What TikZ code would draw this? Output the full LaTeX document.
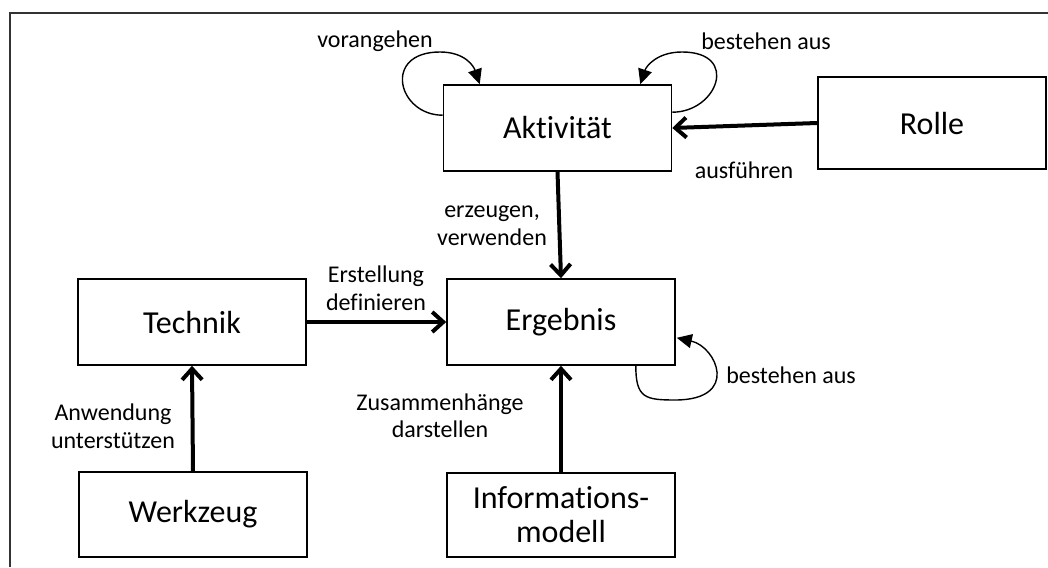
\documentclass[tikz,border=0pt]{standalone}
\usepackage{fontspec}
\setmainfont{Carlito}[Ligatures=NoCommon]
\usetikzlibrary{arrows.meta,calc}
\begin{document}
\begin{tikzpicture}[x=1pt,y=-1pt,
  block/.style={draw=black, line width=1.6pt, minimum width=228pt, minimum height=86pt,
    inner sep=0pt, align=center, font=\fontsize{32}{34}\selectfont},
  edgelbl/.style={inner sep=0pt, align=center, font=\fontsize{24}{27.5}\selectfont},
  flowarrow/.style={line width=4pt, -{Straight Barb[length=11pt,width=20pt]}},
  selfarc/.style={line width=1.4pt, -{Triangle[length=15pt,width=14pt]}},
  frameline/.style={draw=black!80, line width=1.6pt}]
\useasboundingbox (0,0) rectangle (1048,567);
% outer frame (top and left edges)
\draw[frameline] (10,567) -- (10,13) -- (1048,13);

% blocks
\node[block] (akt) at (557.5,128) {Aktivität};
\node[block, minimum height=92pt] (rolle) at (932,123) {Rolle};
\node[block] (tech) at (192,322) {Technik};
\node[block] (erg) at (561,322) {Ergebnis};
\node[block, minimum height=85pt] (wz) at (193,514.5) {Werkzeug};
\node[block, minimum height=84pt] (info) at (561,515) {Informations-\\modell};

% main relations
\draw[flowarrow] (rolle.west) -- (akt.east);
\draw[flowarrow] (akt.south) -- (erg.north);
\draw[flowarrow] (tech.east) -- (erg.west);
\draw[flowarrow] (wz.north) -- (tech.south);
\draw[flowarrow] (info.north) -- (erg.south);

% self relations
\coordinate (pl) at (440,52);
\coordinate (pr) at (682,52);
\coordinate (pe) at (675,400);
\draw[selfarc] ($(akt.north west)+(0,31)$) .. controls +(-45,0) and +(-58,0) .. (pl)
  .. controls +(25,0) and +(-6,-18) .. ($(akt.north west)+(37,0)$);
\draw[selfarc] ($(akt.north east)+(0,28)$) .. controls +(45,0) and +(58,0) .. (pr)
  .. controls +(-25,0) and +(6,-18) .. ($(akt.north east)+(-32,0)$);
\draw[selfarc] ($(erg.south east)+(-40,0)$) .. controls +(0,32) and +(-30,0) .. (pe)
  .. controls +(65,0) and +(40,9) .. ($(erg.south east)+(1,-28)$);

% labels
\node[edgelbl] (l1) at (375,41) {vorangehen};
\node[edgelbl] (l2) at (766,41) {bestehen aus};
\node[edgelbl] (l3) at (744,170) {ausführen};
\node[edgelbl] (l4) at (492,225.5) {erzeugen,\\verwenden};
\node[edgelbl] (l5) at (376,288) {Erstellung\\definieren};
\node[edgelbl] (l6) at (791,375) {bestehen aus};
\node[edgelbl] (l7) at (440,416) {Zusammenhänge\\darstellen};
\node[edgelbl] (l8) at (113,426.5) {Anwendung\\unterstützen};
\end{tikzpicture}
\end{document}
